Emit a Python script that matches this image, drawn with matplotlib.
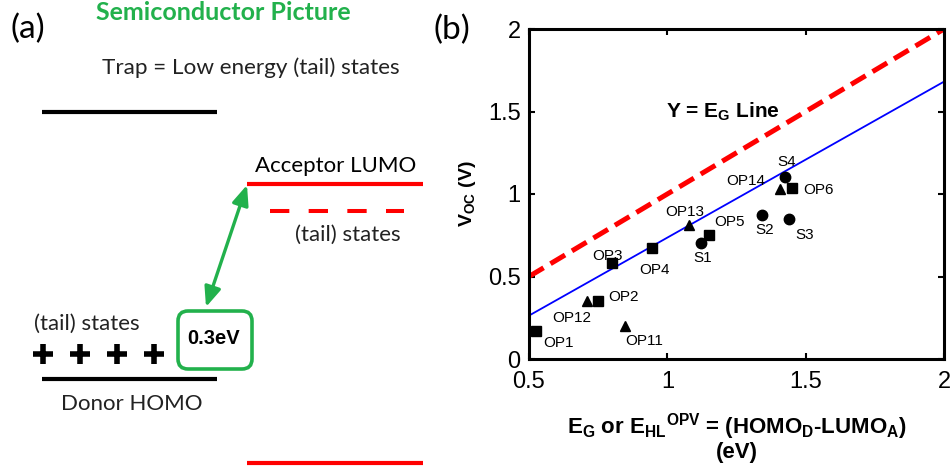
from __future__ import annotations

import matplotlib as mpl

mpl.use("Agg")

import matplotlib.pyplot as plt
from matplotlib.patches import FancyArrowPatch, FancyBboxPatch

plt.rcParams["font.family"] = "sans-serif"
plt.rcParams["font.sans-serif"] = ["Liberation Sans", "DejaVu Sans"]
mpl.rcParams.update(
    {
        "mathtext.fontset": "custom",
        "mathtext.rm": "Liberation Sans",
        "mathtext.bf": "Liberation Sans:bold",
        "mathtext.it": "Liberation Sans:italic",
    }
)

# ---- panel (b) data -------------------------------------------------------
LABELS = ["OP1", "OP2", "OP3", "OP4", "OP5", "OP6",
          "OP11", "OP12", "OP13", "OP14",
          "S1", "S2", "S3", "S4"]
E_HL = [0.524, 0.75, 0.80, 0.946, 1.151, 1.451,
        0.846, 0.71, 1.079, 1.407,
        1.12, 1.343, 1.44, 1.426]
VOC = [0.172, 0.354, 0.58, 0.673, 0.754, 1.034,
       0.20, 0.35, 0.81, 1.03,
       0.703, 0.875, 0.848, 1.103]
MARKERS = ["s"] * 6 + ["^"] * 4 + ["o"] * 4
LABEL_POS = [(0.607, 0.097), (0.842, 0.374), (0.783, 0.626), (0.955, 0.541),
             (1.223, 0.830), (1.545, 1.026),
             (0.918, 0.107), (0.653, 0.248), (1.063, 0.891), (1.284, 1.077),
             (1.126, 0.612), (1.352, 0.784), (1.497, 0.749), (1.431, 1.194)]

EG_LINE_X = [0.5, 2.0]
EG_LINE_Y = [0.5, 2.0]
FIT_X = [0.5, 2.0]
FIT_Y = [0.263, 1.681]

X_TICKS = [0.5, 1, 1.5, 2]
Y_TICKS = [0, 0.5, 1, 1.5, 2]

# ---- panel (a) diagram (pixel coordinates) -------------------------------
DONOR_LEVELS_Y = [112, 379]
DONOR_X = [42, 217]
ACCEPTOR_LEVELS_Y = [184, 463]
ACCEPTOR_X = [247, 423]
ACCEPTOR_TAIL_Y = 211
ACCEPTOR_TAIL_X = [270, 404]
PLUS_X = [43, 80, 117, 154]
PLUS_Y = 354

GREEN = "#22B14C"
RED = "#FF0000"
DIAGRAM_FONT = ["Lato", "DejaVu Sans"]


def main() -> None:
    fig = plt.figure(figsize=(9.53, 4.67), dpi=100)

    _draw_diagram(fig)
    _draw_scatter(fig)

    fig.savefig("out.png", dpi=100)
    plt.close(fig)


def _draw_diagram(fig: plt.Figure) -> None:
    ax = fig.add_axes([0, 0, 440 / 953, 1])
    ax.set_xlim(0, 440)
    ax.set_ylim(467, 0)
    ax.axis("off")

    for y in DONOR_LEVELS_Y:
        ax.plot(DONOR_X, [y, y], color="black", linewidth=3, solid_capstyle="butt")
    for y in ACCEPTOR_LEVELS_Y:
        ax.plot(ACCEPTOR_X, [y, y], color=RED, linewidth=3, solid_capstyle="butt")
    ax.plot(ACCEPTOR_TAIL_X, [ACCEPTOR_TAIL_Y] * 2, color=RED, linewidth=2.9,
            linestyle=(0, (4.8, 4.8)))
    ax.plot(PLUS_X, [PLUS_Y] * len(PLUS_X), linestyle="none", marker="+",
            markersize=14, markeredgewidth=4, color="black")

    arrow = FancyArrowPatch((206, 307), (247, 185),
                            arrowstyle="<|-|>,head_length=12,head_width=5",
                            color=GREEN, linewidth=2.4, shrinkA=0, shrinkB=0)
    ax.add_patch(arrow)
    box = FancyBboxPatch((178, 311), 74, 58,
                         boxstyle="round,pad=0,rounding_size=10",
                         facecolor="white", edgecolor=GREEN, linewidth=2.6)
    ax.add_patch(box)
    ax.text(214, 339, "0.3eV", ha="center", va="center", fontsize=14.5,
            fontweight="bold", color="black")

    ax.text(28, 29, "(a)", ha="center", va="center", fontsize=24,
            family=DIAGRAM_FONT)
    ax.text(223, 13, "Semiconductor Picture", ha="center", va="center",
            fontsize=18, fontweight="bold", color=GREEN, family=DIAGRAM_FONT)
    ax.text(251, 68, "Trap = Low energy (tail) states", ha="center",
            va="center", fontsize=16.2, color="#222222", family=DIAGRAM_FONT)
    ax.text(336, 166, "Acceptor LUMO", ha="center", va="center", fontsize=16,
            color="black", family=DIAGRAM_FONT)
    ax.text(348, 235, "(tail) states", ha="center", va="center", fontsize=16,
            color="#222222", family=DIAGRAM_FONT)
    ax.text(87, 324, "(tail) states", ha="center", va="center", fontsize=16,
            color="#222222", family=DIAGRAM_FONT)
    ax.text(132, 404, "Donor HOMO", ha="center", va="center", fontsize=16,
            color="#222222", family=DIAGRAM_FONT)


def _draw_scatter(fig: plt.Figure) -> None:
    ax = fig.add_axes([529 / 953, 1 - 359 / 467, 415 / 953, 330 / 467])
    ax.set_xlim(0.5, 2)
    ax.set_ylim(0, 2)

    ax.plot(EG_LINE_X, EG_LINE_Y, color=RED, linewidth=3.6,
            linestyle=(0, (3.4, 1.6)), zorder=2)
    ax.plot(FIT_X, FIT_Y, color="#0000FF", linewidth=1.3, zorder=2)

    for x, y, marker in zip(E_HL, VOC, MARKERS):
        ax.plot(x, y, linestyle="none", marker=marker, markersize=7.5,
                color="black", zorder=3)
    for label, (lx, ly) in zip(LABELS, LABEL_POS):
        ax.text(lx, ly, label, ha="center", va="center", fontsize=11,
                color="black", zorder=4)

    ax.text(1.202, 1.50, r"Y = $\mathbf{E_G}$ Line", ha="center", va="center",
            fontsize=15, fontweight="bold")

    ax.set_xticks(X_TICKS, ["0.5", "1", "1.5", "2"])
    ax.set_yticks(Y_TICKS, ["0", "0.5", "1", "1.5", "2"])
    ax.tick_params(direction="in", length=4, width=1.5, labelsize=17,
                   top=True, right=True, pad=6)
    ax.tick_params(axis="x", pad=9)
    for spine in ax.spines.values():
        spine.set_linewidth(2.2)

    ax.set_xlabel(
        r"$\mathbf{E_G}$ or $\mathbf{E_{HL}{}^{OPV}}$ = "
        r"(HOMO$\mathbf{_D}$-LUMO$\mathbf{_A}$)" "\n(eV)",
        fontsize=16, fontweight="bold", labelpad=13, linespacing=1.0,
    )
    ax.set_ylabel(r"$\mathbf{V_{OC}}$ (V)", fontsize=14, fontweight="bold",
                  labelpad=7)

    fig.text(452 / 953, 1 - 30 / 467, "(b)", ha="center", va="center",
             fontsize=24, family=DIAGRAM_FONT)


if __name__ == "__main__":
    main()
